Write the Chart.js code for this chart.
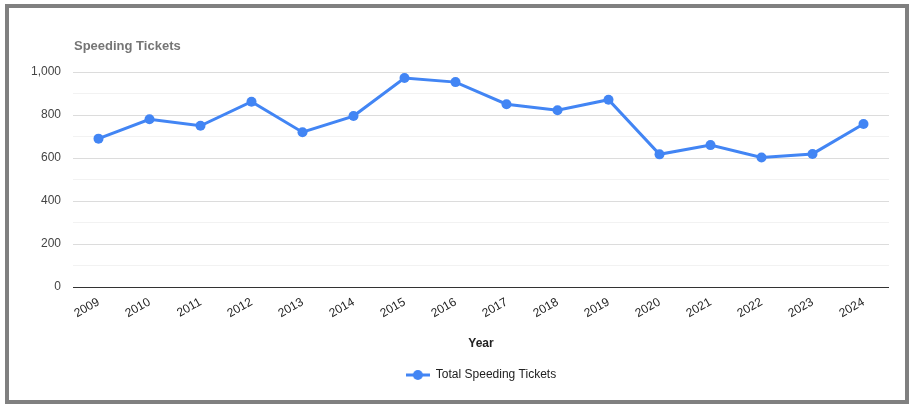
<!DOCTYPE html>
<html>
<head>
<meta charset="utf-8">
<script src="https://cdn.jsdelivr.net/npm/chart.js@4.4.1/dist/chart.umd.min.js"></script>
<style>
  body { margin: 0; background: #fff; }
  .frame {
    position: absolute; left: 5px; top: 4px;
    width: 896px; height: 392px;
    border: 4px solid #808080;
    background: #fff;
  }
  .box { position: relative; width: 896px; height: 392px; }
</style>
</head>
<body>
<div class="frame"><div class="box"><canvas id="ticketChart"></canvas></div></div>
<script>
// chart data
const years = ['2009', '2010', '2011', '2012', '2013', '2014', '2015', '2016',
               '2017', '2018', '2019', '2020', '2021', '2022', '2023', '2024'];
const tickets = [690, 780, 750, 862, 720, 795, 972, 953, 850, 822, 871, 617, 660, 602, 619, 758];
const yTickLabels = ['0', '200', '400', '600', '800', '1,000'];

const blue = '#4285F4';
const font = 'Liberation Sans, Arial, sans-serif';

// little legend marker: line with a dot in the middle
const marker = document.createElement('canvas');
marker.width = 24;
marker.height = 12;
const mctx = marker.getContext('2d');
mctx.strokeStyle = blue;
mctx.lineWidth = 3;
mctx.beginPath();
mctx.moveTo(0, 6);
mctx.lineTo(24, 6);
mctx.stroke();
mctx.fillStyle = blue;
mctx.beginPath();
mctx.arc(12, 6, 5, 0, Math.PI * 2);
mctx.fill();

// title over the plot's left edge, and legend centred under the plot area
const titlePlugin = {
    id: 'leftTitle',
    afterLayout(chart) {
        if (chart.legend) chart.legend.left = chart.chartArea.left;
    },
    afterDraw(chart) {
        const c = chart.ctx;
        c.save();
        c.font = 'bold 13px ' + font;
        c.fillStyle = '#757575';
        c.textBaseline = 'middle';
        c.fillText('Speeding Tickets', chart.chartArea.left + 1, chart.chartArea.top - 26);
        c.restore();
    }
};

const ctx = document.getElementById('ticketChart').getContext('2d');

const ticketChart = new Chart(ctx, {
    type: 'line',
    data: {
        labels: years,
        datasets: [{
            label: 'Total Speeding Tickets',
            data: tickets,
            borderColor: blue,
            backgroundColor: blue,
            borderWidth: 3,
            pointRadius: 5,
            pointHoverRadius: 6,
            pointBackgroundColor: blue,
            pointBorderWidth: 0,
            tension: 0,
            pointStyle: 'circle'
        }]
    },
    options: {
        responsive: true,
        maintainAspectRatio: false,
        animation: false,
        layout: { padding: { left: 0, right: 16, top: 64, bottom: 9 } },
        plugins: {
            title: { display: false },
            tooltip: { enabled: false },
            legend: {
                position: 'bottom',
                labels: {
                    usePointStyle: true,
                    pointStyleWidth: 24,
                    padding: 10,
                    color: '#222',
                    font: { family: font, size: 12 },
                    generateLabels(chart) {
                        return chart.data.datasets.map((ds, i) => ({
                            text: ds.label,
                            pointStyle: marker,
                            fillStyle: blue,
                            strokeStyle: blue,
                            lineWidth: 0,
                            fontColor: '#222',
                            datasetIndex: i
                        }));
                    }
                }
            }
        },
        scales: {
            x: {
                offset: true,
                grid: { display: false, drawTicks: false },
                border: { display: false },
                ticks: {
                    autoSkip: false,
                    maxRotation: 30,
                    minRotation: 30,
                    padding: 8,
                    color: '#222',
                    font: { family: font, size: 12 }
                },
                title: {
                    display: true,
                    text: 'Year',
                    color: '#222',
                    font: { family: font, size: 12, weight: 'bold' },
                    padding: { top: 4, bottom: 8 }
                },
                afterFit(scale) { scale.height = 72; }
            },
            y: {
                min: 0,
                max: 1000,
                grid: {
                    drawTicks: false,
                    color(c) {
                        const v = c.tick.value;
                        if (v === 0) return '#333';
                        return v % 200 === 0 ? '#dcdcdc' : '#f2f2f2';
                    },
                    lineWidth: 1
                },
                border: { display: false },
                ticks: {
                    stepSize: 100,
                    autoSkip: false,
                    padding: 12,
                    color: '#444',
                    font: { family: font, size: 12 },
                    callback(value) {
                        return value % 200 === 0 ? yTickLabels[value / 200] : '';
                    }
                },
                afterFit(scale) { scale.width = 64; }
            }
        }
    },
    plugins: [titlePlugin]
});
</script>
</body>
</html>
